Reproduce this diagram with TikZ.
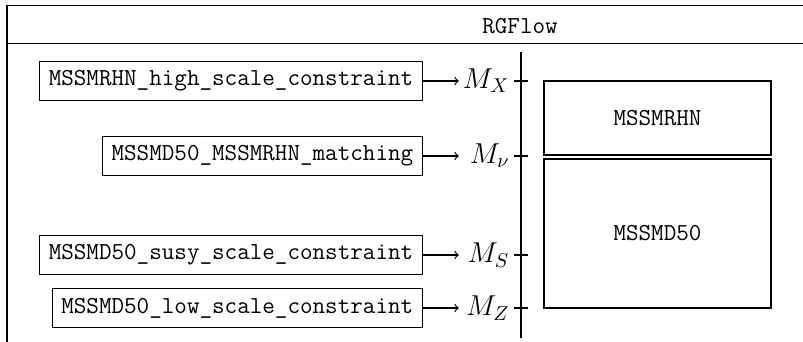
\documentclass[tikz,border=0pt]{standalone}
\newcommand\usc{\char95{}}
\begin{document}
\begin{tikzpicture}[x=0.5pt,y=-0.5pt,line width=0.6pt,
  constraint/.style={draw,anchor=east,minimum height=19.5pt,inner xsep=4.6pt,inner ysep=0pt,
    font=\fontsize{12.2}{14.4}\selectfont\ttfamily},
  scalelabel/.style={anchor=east,text width=25pt,align=right,inner sep=0pt,
    font=\fontsize{14.4}{17}\selectfont},
  modelbox/.style={draw,minimum width=113.5pt,inner sep=0pt,
    font=\fontsize{12.2}{14.4}\selectfont\ttfamily},
  flow/.style={->}]
\useasboundingbox (0,0) rectangle (803,342);
% frame
\coordinate (ftr) at (803,5.5);
\coordinate (ftl) at (7,5.5);
\coordinate (fbl) at (7,342);
\coordinate (hl) at (7,43.5);
\coordinate (hr) at (803,43.5);
\draw (ftr) -- (ftl) -- (fbl);
\draw (hl) -- (hr);
\node[font=\fontsize{12.2}{14.4}\selectfont\ttfamily] (title) at (520,26) {RGFlow};
% axis
\coordinate (atop) at (521,52);
\coordinate (abot) at (521,338);
\draw (atop) -- (abot);
% constraints
\node[constraint] (b1) at (423,81) {MSSMRHN\usc high\usc scale\usc constraint};
\node[constraint] (b2) at (423,156) {MSSMD50\usc MSSMRHN\usc matching};
\node[constraint] (b3) at (423,255) {MSSMD50\usc susy\usc scale\usc constraint};
\node[constraint] (b4) at (423,308) {MSSMD50\usc low\usc scale\usc constraint};
\node[scalelabel] (m1) at (510,81) {$M_X$};
\node[scalelabel] (m2) at (510,156) {$M_\nu$};
\node[scalelabel] (m3) at (510,255) {$M_S$};
\node[scalelabel] (m4) at (510,308) {$M_Z$};
\foreach \i in {1,...,4} {\draw[flow] (b\i.east) -- (m\i.west);}
% ticks
\coordinate (t1l) at (514,81); \coordinate (t1r) at (528,81);
\coordinate (t2l) at (514,156); \coordinate (t2r) at (528,156);
\coordinate (t3l) at (514,255); \coordinate (t3r) at (528,255);
\coordinate (t4l) at (514,308); \coordinate (t4r) at (528,308);
\foreach \i in {1,...,4} {\draw (t\i l) -- (t\i r);}
% models
\node[modelbox,minimum height=37pt] (rhn) at (657.5,118) {MSSMRHN};
\node[modelbox,minimum height=74.5pt] (d50) at (657.5,233.5) {MSSMD50};
\end{tikzpicture}
\end{document}
